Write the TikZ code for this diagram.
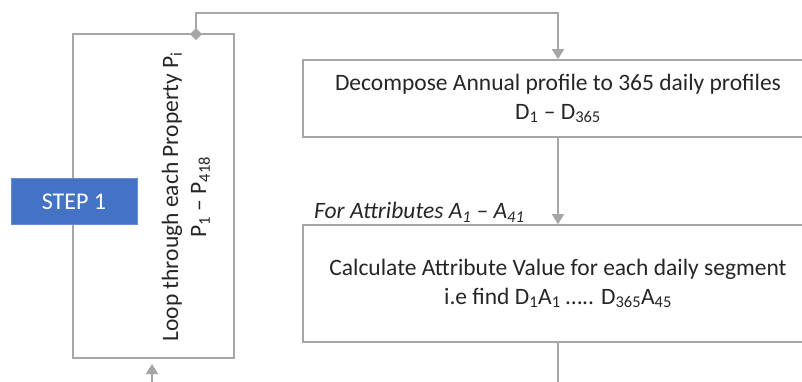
\documentclass[tikz,border=0pt]{standalone}
\usepackage{fontspec}
\setmainfont{Carlito}
\usetikzlibrary{arrows.meta}
\definecolor{lgray}{HTML}{A6A6A6}
\definecolor{stepblue}{HTML}{4472C4}
\definecolor{txt}{HTML}{262626}
\begin{document}
\begin{tikzpicture}[x=1pt,y=-1pt,
  box/.style={draw=lgray,line width=1.6pt,fill=white,inner sep=0pt,text=txt,font=\fontsize{23.5}{29}\selectfont,align=center},
  conn/.style={draw=lgray,line width=1.3pt},
  arr/.style={conn,-{Triangle[length=10pt,width=12pt]}}]
\useasboundingbox (0,0) rectangle (802,381);
\begin{scope}
\clip (0,0) rectangle (802,381);
% loop box
\node[box,minimum width=161pt,minimum height=324pt] (loop) at (153.5,196) {};
\node[rotate=90,text=txt,font=\fontsize{23.5}{28}\selectfont,align=center] (looptext) at (186,197)
  {Loop through each Property P\textsubscript{i}\\P\textsubscript{1} – P\textsubscript{418}};
% step box
\node[fill=stepblue,draw=stepblue!80!white,line width=0.6pt,minimum width=126pt,minimum height=46pt,text=white,font=\fontsize{24}{24}\selectfont,inner sep=0pt] (step) at (74,201.5) {STEP 1};
% box1
\node[box,minimum width=510pt,minimum height=77pt] (b1) at (558,98.5)
  {Decompose Annual profile to 365 daily profiles\\D\textsubscript{1} – D\textsubscript{365}};
% box2
\node[box,minimum width=510pt,minimum height=117pt] (b2) at (558,283.5)
  {Calculate Attribute Value for each daily segment\\i.e find D\textsubscript{1}A\textsubscript{1} ….. D\textsubscript{365}A\textsubscript{45}};
% label
\node[anchor=west,text=txt,font=\fontsize{23.5}{24}\selectfont\itshape,inner sep=0pt] (lab) at (314,212)
  {For Attributes A\textsubscript{1} – A\textsubscript{41}};
% connectors
\coordinate (d) at (196,34);
\coordinate (top) at (196,13);
\coordinate (out) at (558,385);
\coordinate (bot) at (152,385);
\coordinate (bottip) at (152,364);
\draw[arr] (d) -- (top) -| (b1.north);
\draw[arr] (b1.south) -- (b2.north);
\draw[conn] (b2.south) -- (out);
\draw[arr] (bot) -- (bottip);
\fill[lgray] (d) ++(-6,0) -- ++(6,-6) -- ++(6,6) -- ++(-6,6) -- cycle;
\end{scope}
\end{tikzpicture}
\end{document}
